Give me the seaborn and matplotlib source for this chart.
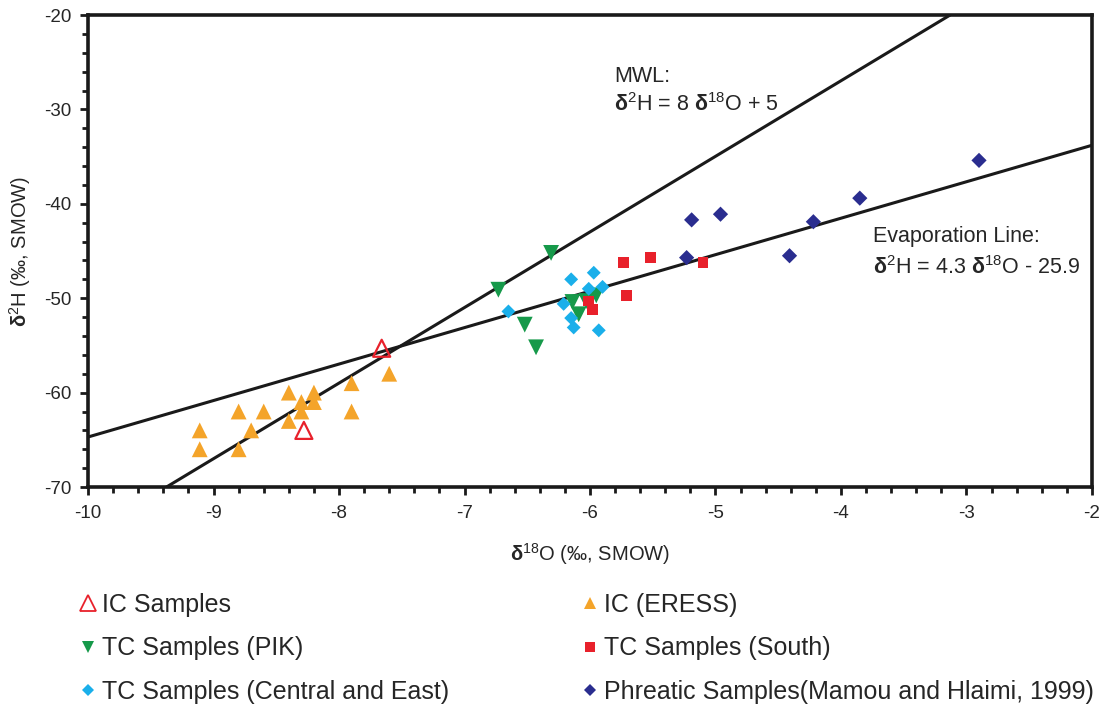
import matplotlib
matplotlib.use("Agg")
import matplotlib.pyplot as plt
import seaborn as sns
from matplotlib.ticker import MultipleLocator
from matplotlib.lines import Line2D

# ---- data ----
ic_x = [-7.66, -8.28]
ic_y = [-55.3, -64.0]

eress_x = [-9.11, -9.11, -8.80, -8.80, -8.70, -8.60, -8.40, -8.40, -8.30, -8.30, -8.20, -8.20, -7.90, -7.90, -7.60]
eress_y = [-64.0, -66.0, -62.0, -66.0, -64.0, -62.0, -60.0, -63.0, -61.0, -62.0, -60.0, -61.0, -59.0, -62.0, -58.0]

pik_x = [-6.31, -6.73, -6.52, -6.43, -6.14, -6.09, -6.03, -5.95]
pik_y = [-45.2, -49.1, -52.8, -55.2, -50.4, -51.7, -50.3, -49.7]

south_x = [-5.73, -5.52, -5.10, -5.71, -6.01, -5.98]
south_y = [-46.2, -45.7, -46.2, -49.7, -50.3, -51.2]

central_x = [-6.65, -6.15, -5.97, -6.01, -5.90, -6.21, -6.15, -6.13, -5.93]
central_y = [-51.4, -48.0, -47.3, -49.0, -48.8, -50.6, -52.1, -53.1, -53.4]

phreatic_x = [-5.19, -4.96, -5.23, -4.41, -4.22, -3.85, -2.90]
phreatic_y = [-41.7, -41.1, -45.7, -45.5, -41.9, -39.4, -35.4]

mwl_x = [-9.40, -3.13]
mwl_y = [-70.2, -20.0]
evap_x = [-10.0, -2.0]
evap_y = [-64.7, -33.8]

labels = ["IC Samples", "IC (ERESS)", "TC Samples (PIK)", "TC Samples (South)",
          "TC Samples (Central and East)", "Phreatic Samples(Mamou and Hlaimi, 1999)"]

# ---- style ----
sns.set_theme(style="ticks")
plt.rcParams['font.family'] = ['Liberation Sans', 'DejaVu Sans']
plt.rcParams['mathtext.fontset'] = 'custom'
plt.rcParams['mathtext.rm'] = 'Liberation Sans'
plt.rcParams['mathtext.bf'] = 'Liberation Sans:bold'
plt.rcParams['mathtext.it'] = 'Liberation Sans:italic'
plt.rcParams['axes.unicode_minus'] = False

RED = "#E8212B"
ORANGE = "#F4A42A"
GREEN = "#16994A"
CYAN = "#1AAFEA"
NAVY = "#2A2D8F"
INK = "#1a1a1a"

fig = plt.figure(figsize=(11.06, 7.08), dpi=100)
ax = fig.add_axes([0.0796, 0.3121, 0.9077, 0.6667])

# lines
sns.lineplot(x=mwl_x, y=mwl_y, ax=ax, color=INK, lw=2.2, zorder=2)
sns.lineplot(x=evap_x, y=evap_y, ax=ax, color=INK, lw=2.2, zorder=2)

ax.scatter(ic_x, ic_y, marker="^", s=150, facecolors="none", edgecolors=RED, linewidths=1.6, zorder=4)
sns.scatterplot(x=eress_x, y=eress_y, ax=ax, marker="^", s=130, color=ORANGE, edgecolor="none", zorder=3)
sns.scatterplot(x=pik_x, y=pik_y, ax=ax, marker="v", s=130, color=GREEN, edgecolor="none", zorder=3)
sns.scatterplot(x=south_x, y=south_y, ax=ax, marker="s", s=60, color=RED, edgecolor="none", zorder=3)
sns.scatterplot(x=central_x, y=central_y, ax=ax, marker="D", s=50, color=CYAN, edgecolor="none", zorder=3)
sns.scatterplot(x=phreatic_x, y=phreatic_y, ax=ax, marker="D", s=60, color=NAVY, edgecolor="none", zorder=3)

ax.set_xlim(-10, -2)
ax.set_ylim(-70, -20)
ax.xaxis.set_major_locator(MultipleLocator(1))
ax.xaxis.set_minor_locator(MultipleLocator(0.2))
ax.yaxis.set_major_locator(MultipleLocator(10))
ax.yaxis.set_minor_locator(MultipleLocator(2))
ax.tick_params(which="major", direction="out", length=6, width=2, labelsize=13.5, color=INK, pad=6)
ax.tick_params(which="minor", direction="out", length=4, width=2, color=INK)
ax.tick_params(axis="x", pad=7)
for sp in ax.spines.values():
    sp.set_linewidth(2.6)
    sp.set_color(INK)
    sp.set_visible(True)

ax.set_xlabel(r"$\mathbf{δ}^{\mathrm{18}}$O (‰, SMOW)", fontsize=14.5, labelpad=14)
ax.set_ylabel(r"$\mathbf{δ}^{\mathrm{2}}$H (‰, SMOW)", fontsize=14.5, labelpad=8)

ax.text(-5.81, -26.5, "MWL:", fontsize=15.5, ha="left", va="center")
ax.text(-5.81, -29.5, r"$\mathbf{δ}^{\mathrm{2}}$H = 8 $\mathbf{δ}^{\mathrm{18}}$O + 5", fontsize=15.5, ha="left", va="center")
ax.text(-3.745, -43.5, "Evaporation Line:", fontsize=15.5, ha="left", va="center")
ax.text(-3.745, -46.7, r"$\mathbf{δ}^{\mathrm{2}}$H = 4.3 $\mathbf{δ}^{\mathrm{18}}$O - 25.9", fontsize=15.5, ha="left", va="center")

# legend
def mk(marker, color, fill=True, ms=8):
    return Line2D([], [], linestyle="none", marker=marker, markersize=ms,
                  markerfacecolor=color if fill else "none", markeredgecolor=color,
                  markeredgewidth=1.3 if not fill else 0)
hs = [mk("^", RED, fill=False, ms=11), mk("v", GREEN, ms=9), mk("D", CYAN, ms=6),
      mk("^", ORANGE, ms=9), mk("s", RED, ms=7), mk("D", NAVY, ms=6.5)]
ls = [labels[0], labels[2], labels[4], labels[1], labels[3], labels[5]]
fig.legend(hs, ls, loc="upper left", bbox_to_anchor=(0.0545, 0.191), ncol=2, frameon=False,
           fontsize=18, handlelength=0.6, handletextpad=0.25, columnspacing=5.35,
           labelspacing=0.78, borderpad=0.3)

fig.savefig("out.png", dpi=100)
